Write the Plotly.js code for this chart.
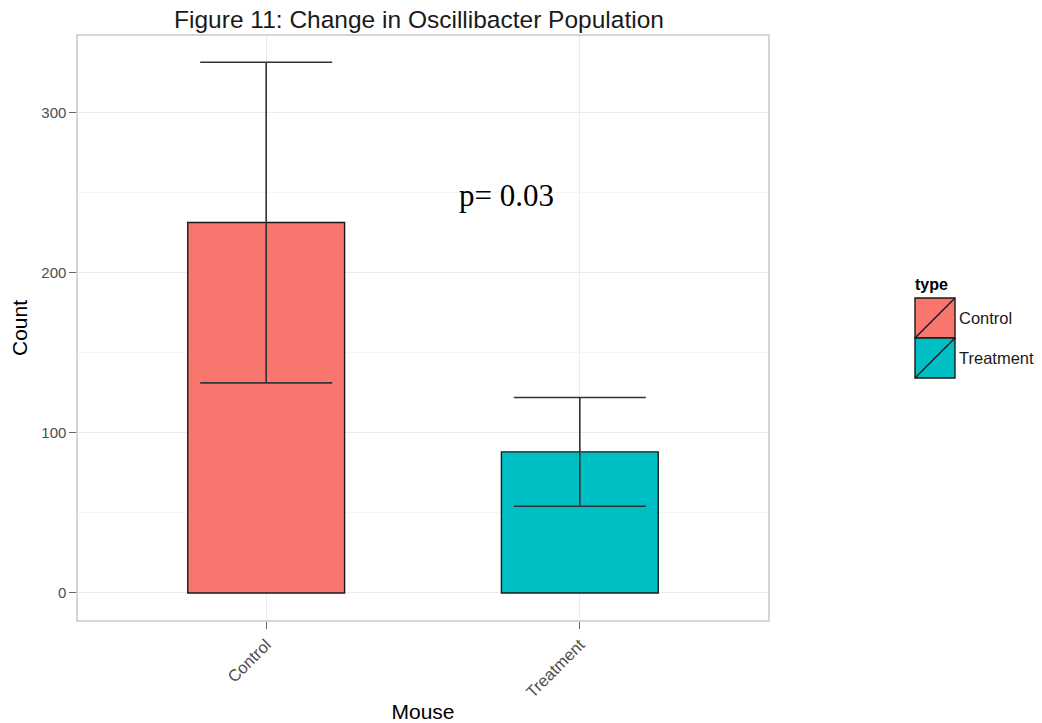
<!DOCTYPE html>
<html>
<head>
<meta charset="utf-8">
<script src="https://cdn.plot.ly/plotly-3.0.1.min.js"></script>
<style>html,body{margin:0;padding:0;background:#fff;}#chart{width:1042px;height:723px;}</style>
</head>
<body>
<div id="chart"></div>
<script>
const categories = ["Control", "Treatment"];
const counts = [231.5, 88.2];
const errors = [100.2, 34.0];
const colors = ["#F8766D", "#00BFC4"];
const legendTitle = "type";
const chartTitle = "Figure 11: Change in Oscillibacter Population";
const pLabel = "p= 0.03";

const traces = [{
  type: "bar",
  x: categories,
  y: counts,
  width: 0.5,
  marker: {color: colors, line: {color: "#1a1a1a", width: 1.4}},
  error_y: {type: "data", array: errors, visible: true, color: "#333333", thickness: 1.6, width: 66},
  showlegend: false,
  hoverinfo: "x+y"
}];

const layout = {
  width: 1042, height: 723,
  margin: {l: 78, r: 274, t: 36, b: 103},
  paper_bgcolor: "#ffffff",
  plot_bgcolor: "#ffffff",
  font: {family: "Liberation Sans, Arial, sans-serif", color: "#000"},
  title: {text: chartTitle, font: {size: 24.5, color: "#1a1a1a"}, x: 419 / 1042, xanchor: "center", xref: "container", y: 1 - 19 / 723, yanchor: "middle", yref: "container"},
  xaxis: {
    title: {text: "Mouse", font: {size: 21, color: "#000"}, standoff: 12},
    range: [-0.6, 1.6],
    tickangle: -45,
    tickfont: {size: 16.5, color: "#4d4d4d"},
    ticks: "outside", ticklen: 7, tickcolor: "#666", tickwidth: 1,
    showgrid: true, gridcolor: "#ebebeb", gridwidth: 1,
    showline: true, mirror: true, linecolor: "#d6d6d6", linewidth: 1.6,
    zeroline: false, fixedrange: true, automargin: false
  },
  yaxis: {
    title: {text: "Count", font: {size: 21, color: "#000"}, standoff: 8},
    range: [-16.9, 348.1],
    tickvals: [0, 100, 200, 300],
    tickfont: {size: 15, color: "#4d4d4d"},
    ticks: "outside", ticklen: 7, tickcolor: "#666", tickwidth: 1,
    showgrid: true, gridcolor: "#ebebeb", gridwidth: 1,
    minor: {tickvals: [50, 150, 250], showgrid: true, gridcolor: "#f5f5f5", gridwidth: 1, ticks: ""},
    showline: true, mirror: true, linecolor: "#d6d6d6", linewidth: 1.6,
    zeroline: false, fixedrange: true, automargin: false
  },
  shapes: [],
  annotations: []
};

// paper-coordinate helpers for the plot domain (78..768 x, 36..620 y)
const xDom = v => (v - 78) / 690, yDom = v => (620 - v) / 584;

layout.annotations.push({xref: "paper", yref: "paper", x: xDom(506), y: yDom(195), text: pLabel, showarrow: false,
  font: {family: "Liberation Serif, Times New Roman, serif", size: 31, color: "#000"}, xanchor: "center", yanchor: "middle"});
layout.annotations.push({xref: "paper", yref: "paper", x: xDom(913), y: yDom(284), text: "<b>" + legendTitle + "</b>", showarrow: false,
  font: {size: 16, color: "#000"}, xanchor: "left", yanchor: "middle"});

// legend keys built from categories/colors
const lx0 = 915, lx1 = 955, ly0 = 298, keyH = 40;
categories.forEach((c, i) => {
  const top = ly0 + i * keyH, bot = top + keyH;
  layout.shapes.push({type: "rect", xref: "paper", yref: "paper", x0: xDom(lx0), x1: xDom(lx1), y0: yDom(bot), y1: yDom(top),
    fillcolor: colors[i], line: {color: "#1a1a1a", width: 1.4}, layer: "above"});
  layout.shapes.push({type: "line", xref: "paper", yref: "paper", x0: xDom(lx0), x1: xDom(lx1), y0: yDom(bot), y1: yDom(top),
    line: {color: "#1a1a1a", width: 1.4}, layer: "above"});
  layout.annotations.push({xref: "paper", yref: "paper", x: xDom(lx1 + 2), y: yDom((top + bot) / 2), text: c, showarrow: false,
    font: {size: 16.5, color: "#1a1a1a"}, xanchor: "left", yanchor: "middle"});
});

Plotly.newPlot("chart", traces, layout, {displayModeBar: false, staticPlot: true});
</script>
</body>
</html>
